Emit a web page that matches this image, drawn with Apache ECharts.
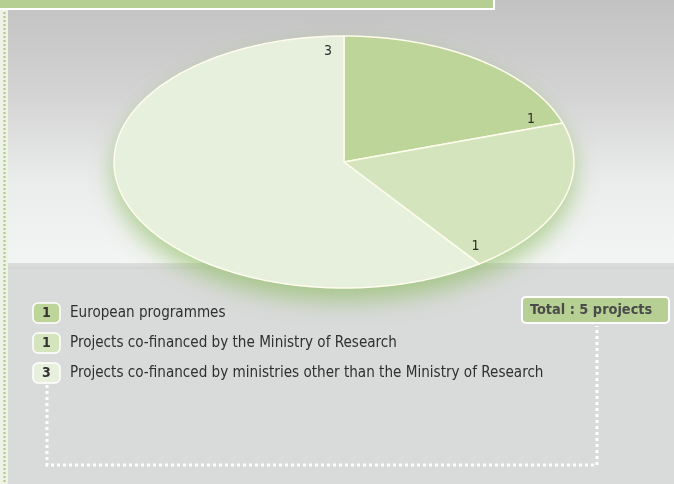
<!DOCTYPE html>
<html>
<head>
<meta charset="utf-8">
<style>
  html, body { margin: 0; padding: 0; background: #d9dada; }
  #chart { width: 674px; height: 484px; }
</style>
<script src="https://cdn.jsdelivr.net/npm/echarts@6/dist/echarts.min.js"></script>
</head>
<body>
<div id="chart"></div>
<script>
// Funding sources of the projects
const categories = [
  'European programmes',
  'Projects co-financed by the Ministry of Research',
  'Projects co-financed by ministries other than the Ministry of Research'
];
const projectCounts = [1, 1, 3];
const totalPrefix = 'Total : ';
const totalSuffix = ' projects';

// Palette, one shade per category
const sliceColors = ['#bdd599', '#d4e4bc', '#e7f0dc'];
const textFont = '"Liberation Sans Narrow", "DejaVu Sans Condensed", sans-serif';

const total = projectCounts.reduce((a, b) => a + b, 0);
let running = 0;
const pieData = projectCounts.map(v => {
  const row = [v, running, total];
  running += v;
  return row;
});

// Elliptical pie layout
const PIE = { cx: 344, cy: 162, rx: 230, ry: 126 };

function ellipsePoint(deg, k) {
  const a = deg * Math.PI / 180;
  return [PIE.cx + k * PIE.rx * Math.cos(a), PIE.cy - k * PIE.ry * Math.sin(a)];
}

function renderSlice(params, api) {
  const value = api.value(0);
  const start = api.value(1);
  const sum = api.value(2);
  const a0 = 90 - 360 * start / sum;
  const a1 = 90 - 360 * (start + value) / sum;
  const pts = [[PIE.cx, PIE.cy]];
  for (let a = a0; a > a1; a -= 1) pts.push(ellipsePoint(a, 1));
  pts.push(ellipsePoint(a1, 1));
  const labelPos = ellipsePoint(a1 + 4.5, 0.88);
  const children = [];
  if (params.dataIndex === 0) {
    // soft green halo beneath the whole pie
    children.push({
      type: 'ellipse',
      shape: { cx: PIE.cx, cy: PIE.cy, rx: PIE.rx, ry: PIE.ry },
      style: {
        fill: sliceColors[2],
        shadowBlur: 24,
        shadowOffsetY: 12,
        shadowColor: 'rgba(128, 184, 78, 0.6)'
      }
    });
  }
  children.push({
    type: 'polygon',
    shape: { points: pts },
    style: {
      fill: sliceColors[params.dataIndex],
      stroke: '#fffcee',
      lineWidth: 1.5,
      lineJoin: 'round'
    }
  });
  children.push({
    type: 'text',
    x: labelPos[0],
    y: labelPos[1],
    style: {
      text: String(value),
      font: '14px ' + textFont,
      fill: '#2e2e2e',
      align: 'center',
      verticalAlign: 'middle'
    }
  });
  return { type: 'group', children: children };
}

// Decorative background and legend
const graphics = [];
// page strip on the left with dotted green rule
graphics.push({ type: 'rect', shape: { x: 0, y: 0, width: 8, height: 484 }, style: { fill: '#eef1e6' }, z: 0 });
graphics.push({ type: 'line', shape: { x1: 4.5, y1: 0, x2: 4.5, y2: 484 }, style: { stroke: '#a9c982', lineWidth: 2, lineDash: [2, 2] }, z: 1 });
// upper panel with vertical gradient
graphics.push({
  type: 'rect', shape: { x: 8, y: 0, width: 666, height: 263 },
  style: {
    fill: new echarts.graphic.LinearGradient(0, 0, 0, 1, [
      { offset: 0, color: '#c2c2c2' },
      { offset: 0.35, color: '#d3d3d3' },
      { offset: 0.7, color: '#ebecec' },
      { offset: 1, color: '#f3f4f4' }
    ])
  }, z: 0
});
// band between panels
graphics.push({
  type: 'rect', shape: { x: 8, y: 263, width: 666, height: 6 },
  style: {
    fill: new echarts.graphic.LinearGradient(0, 0, 0, 1, [
      { offset: 0, color: '#dedede' },
      { offset: 1, color: '#d3d4d4' }
    ])
  }, z: 0
});
graphics.push({ type: 'rect', shape: { x: 8, y: 269, width: 666, height: 215 }, style: { fill: '#d9dada' }, z: 0 });
// top green heading bar
graphics.push({ type: 'rect', shape: { x: 0, y: 0, width: 495, height: 10 }, style: { fill: '#ffffff' }, z: 2 });
graphics.push({ type: 'rect', shape: { x: 0, y: 0, width: 493, height: 8 }, style: { fill: '#b5cf92' }, z: 3 });

// legend rows
categories.forEach((name, i) => {
  const cy = 313 + i * 30;
  graphics.push({
    type: 'rect', shape: { x: 33, y: cy - 10, width: 27, height: 20, r: 5 },
    style: { fill: sliceColors[i], stroke: '#ffffff', lineWidth: 1.5 }, z: 5
  });
  graphics.push({
    type: 'text', x: 46.5, y: cy + 0.5,
    style: { text: String(projectCounts[i]), font: 'bold 14px ' + textFont, fill: '#333333', align: 'center', verticalAlign: 'middle' }, z: 6
  });
  graphics.push({
    type: 'text', x: 70, y: cy,
    style: { text: name, font: '15.1px ' + textFont, fill: '#2f2f2f', align: 'left', verticalAlign: 'middle' }, z: 6
  });
});

// dotted connector from the legend to the total badge
graphics.push({
  type: 'polyline',
  shape: { points: [[47, 385], [47, 465], [597, 465], [597, 326]] },
  style: { stroke: '#ffffff', lineWidth: 3, lineDash: [3, 3], fill: null }, z: 4
});

// total badge
graphics.push({
  type: 'rect', shape: { x: 522, y: 297, width: 147, height: 26, r: 4 },
  style: { fill: '#b6cf93', stroke: '#ffffff', lineWidth: 2 }, z: 5
});
graphics.push({
  type: 'text', x: 530, y: 310.5,
  style: { text: totalPrefix + total + totalSuffix, font: 'bold 14.4px ' + textFont, fill: '#4a4a4a', align: 'left', verticalAlign: 'middle' }, z: 6
});

const chart = echarts.init(document.getElementById('chart'), null, { renderer: 'canvas' });
chart.setOption({
  animation: false,
  graphic: graphics,
  series: [{
    type: 'custom',
    coordinateSystem: 'none',
    renderItem: renderSlice,
    data: pieData,
    z: 3,
    silent: true
  }]
});
</script>
</body>
</html>
